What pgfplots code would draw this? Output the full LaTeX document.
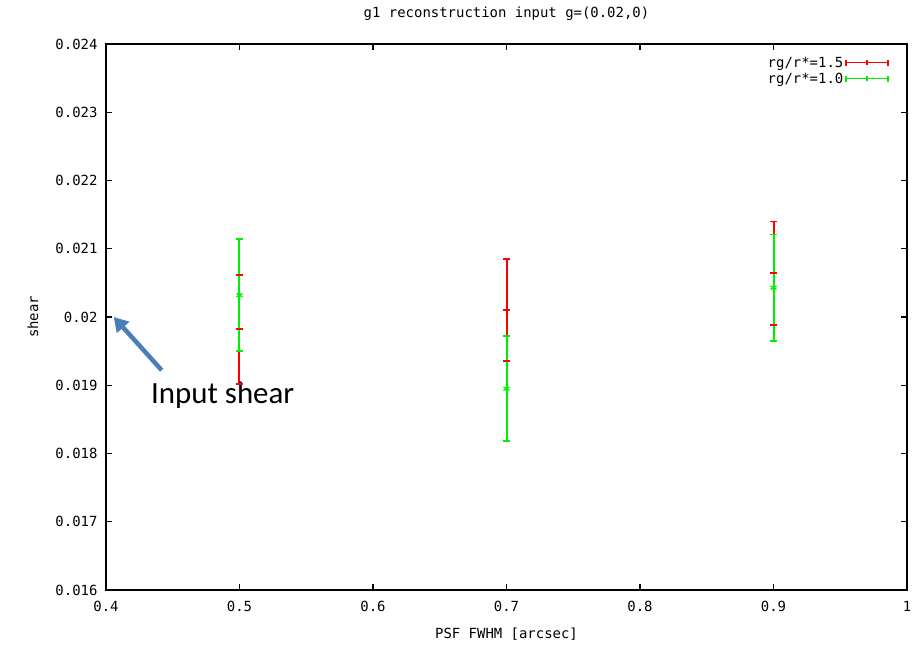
\documentclass[border=0pt]{standalone}
\usepackage{pgfplots}
\pgfplotsset{compat=1.18}
\usepackage{fontspec}
\setmainfont{DejaVu Sans Mono}
\newfontfamily\calibri{Carlito}
\usetikzlibrary{arrows.meta}
\definecolor{gred}{RGB}{255,0,0}
\definecolor{ggreen}{RGB}{0,240,0}
\definecolor{arrowblue}{RGB}{74,126,187}
\begin{document}
\begin{tikzpicture}
\useasboundingbox (-106bp,-58bp) rectangle (812bp,590bp);
\begin{axis}[
  scale only axis,
  width=801bp, height=546bp,
  xmin=0.4, xmax=1, ymin=0.016, ymax=0.024,
  xtick={0.4,0.5,0.6,0.7,0.8,0.9,1},
  xticklabels={0.4,0.5,0.6,0.7,0.8,0.9,1},
  ytick={0.016,0.017,0.018,0.019,0.02,0.021,0.022,0.023,0.024},
  yticklabels={0.016,0.017,0.018,0.019,0.02,0.021,0.022,0.023,0.024},
  scaled y ticks=false,
  tick align=inside,
  major tick length=6bp,
  tick style={black, line width=1.2bp},
  axis line style={black, line width=1.6bp},
  font=\fontsize{14}{16}\selectfont,
  ticklabel style={font=\fontsize{14}{16}\selectfont},
  yticklabel style={xshift=-5bp},
  xticklabel style={yshift=-8bp},
  title={g1 reconstruction input g=(0.02,0)},
  every axis title/.style={at={(rel axis cs:0.5,1.0549)}, anchor=center, font=\fontsize{14}{16}\selectfont},
  xlabel={PSF FWHM [arcsec]},
  every axis x label/.style={at={(rel axis cs:0.5,-0.0815)}, anchor=center},
  ylabel={shear},
  every axis y label/.style={at={(rel axis cs:-0.0911,0.5)}, rotate=90, anchor=center},
  legend style={draw=none, fill=none, at={(rel axis cs:0.981,0.984)}, anchor=north east,
    font=\fontsize{14}{16}\selectfont, row sep=0bp},
  legend cell align=right,
  legend plot pos=right,
  legend image code/.code={
    \draw[#1, line width=1.3bp] (0bp,0bp) -- (42bp,0bp);
    \draw[#1, line width=1.3bp] (0bp,-3bp) -- (0bp,3bp);
    \draw[#1, line width=1.3bp] (42bp,-3bp) -- (42bp,3bp);
    \draw[#1, line width=1.3bp] (21bp,-2.5bp) -- (21bp,2.5bp);
  },
  bar/.style={line width=2bp, forget plot},
  cap/.style={only marks, mark=-, mark size=3.6bp, mark options={line width=1.8bp}, forget plot},
]
\addlegendimage{gred}
\addlegendentry{rg/r*=1.5}
\addlegendimage{ggreen}
\addlegendentry{rg/r*=1.0}
% rg/r*=1.5 (red): centre +- error
\addplot[gred, bar] coordinates {(0.5,0.01902) (0.5,0.02062)};
\addplot[gred, bar] coordinates {(0.7,0.01935) (0.7,0.02085)};
\addplot[gred, bar] coordinates {(0.9,0.01988) (0.9,0.02140)};
\addplot[gred, cap] coordinates {(0.5,0.01902) (0.5,0.02062) (0.7,0.01935) (0.7,0.02085) (0.9,0.01988) (0.9,0.02140)};
\addplot[gred, cap] coordinates {(0.5,0.01982) (0.7,0.02010) (0.9,0.02064)};
% rg/r*=1.0 (green)
\addplot[ggreen, bar] coordinates {(0.5,0.01950) (0.5,0.02114)};
\addplot[ggreen, bar] coordinates {(0.7,0.01818) (0.7,0.01972)};
\addplot[ggreen, bar] coordinates {(0.9,0.01965) (0.9,0.02121)};
\addplot[ggreen, cap] coordinates {(0.5,0.01950) (0.5,0.02114) (0.7,0.01818) (0.7,0.01972) (0.9,0.01965) (0.9,0.02121)};
\addplot[ggreen, only marks, mark=asterisk, mark size=3.5bp, mark options={line width=1.3bp}, forget plot]
  coordinates {(0.5,0.02032) (0.7,0.01895) (0.9,0.02043)};
\draw[arrowblue, line width=4.5bp, -{Triangle[length=14bp,width=16bp]}]
  (axis cs:0.4417,0.01922) -- (axis cs:0.4058,0.02000);
\node[font=\calibri\fontsize{31}{34}\selectfont, anchor=base west, inner sep=0pt]
  at (axis cs:0.4337,0.01873) {Input shear};
\end{axis}
\end{tikzpicture}
\end{document}
